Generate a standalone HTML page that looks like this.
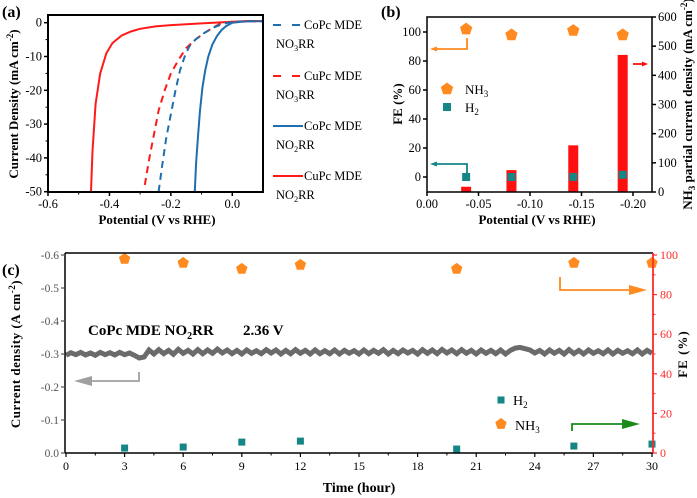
<!DOCTYPE html>
<html><head><meta charset="utf-8">
<style>
html,body{margin:0;padding:0;background:#fff;}
svg{display:block;font-family:"Liberation Serif",serif;}
</style></head>
<body>
<svg id="fig" width="697" height="498" viewBox="0 0 697 498" xmlns="http://www.w3.org/2000/svg"></svg>
<script>
// ---------- Panel (a) data ----------
const aCuNO2x = [-0.46,-0.455,-0.445,-0.43,-0.41,-0.39,-0.36,-0.33,-0.3,-0.25,-0.2,-0.1,0,0.05,0.1];
const aCuNO2y = [-50,-38,-24,-15,-9,-6,-3.8,-2.6,-1.8,-1.1,-0.7,-0.2,0.3,0.5,0.5];
const aCoNO2x = [-0.122,-0.118,-0.112,-0.105,-0.097,-0.088,-0.078,-0.065,-0.05,-0.035,-0.02,0,0.03,0.06,0.1];
const aCoNO2y = [-50,-42,-34,-26,-19,-14,-10,-6.5,-4,-2.2,-1,0,0.3,0.4,0.4];
const aCuNO3x = [-0.285,-0.27,-0.255,-0.24,-0.22,-0.2,-0.175,-0.15,-0.12,-0.09,-0.06,-0.035,0,0.05,0.1];
const aCuNO3y = [-48,-40,-33,-26,-20,-15,-11,-7.5,-5,-3,-1.3,-0.1,0.3,0.4,0.4];
const aCoNO3x = [-0.24,-0.228,-0.215,-0.2,-0.185,-0.17,-0.155,-0.14,-0.12,-0.09,-0.06,-0.03,0,0.05,0.1];
const aCoNO3y = [-50,-42,-34,-27,-20,-14,-10,-7,-5,-3,-1.4,-0.3,0.2,0.4,0.4];
const aXTicks = [-0.6,-0.4,-0.2,0.0];
const aXTickLabels = ["-0.6","-0.4","-0.2","0.0"];
const aYTicks = [0,-10,-20,-30,-40,-50];
const aYTickLabels = ["0","-10","-20","-30","-40","-50"];
// ---------- Panel (b) data ----------
const bPot = [-0.038,-0.082,-0.142,-0.19];
const bNH3FE = [102,98,101,98];
const bH2FE = [0,0,0,1.5];
const bNH3J = [18,75,160,470];
const bXTicks = [0,-0.05,-0.10,-0.15,-0.20];
const bXTickLabels = ["0.00","-0.05","-0.10","-0.15","-0.20"];
const bYTicks = [0,20,40,60,80,100];
const bYRTicks = [0,100,200,300,400,500,600];
// ---------- Panel (c) data ----------
const cHours = [3,6,9,12,20,26,30];
const cNH3FE = [98,96,93,95,93,96,96];
const cH2FE = [2.5,3,5.5,6,2,3.5,4.5];
const cCurrent = [-0.296,-0.304,-0.298,-0.305,-0.297,-0.303,-0.296,-0.305,-0.298,-0.304,-0.297,-0.305,-0.298,-0.303,-0.296,
 -0.288,-0.291,
 -0.312,-0.300,-0.313,-0.301,-0.311,-0.299,-0.314,-0.302,-0.311,-0.300,-0.313,-0.301,-0.312,-0.302,-0.315,-0.303,-0.312,-0.301,
 -0.311,-0.300,-0.312,-0.302,-0.310,-0.301,-0.313,-0.303,-0.312,-0.300,-0.311,-0.301,-0.313,-0.302,-0.311,-0.300,-0.312,-0.301,
 -0.310,-0.301,-0.312,-0.300,-0.311,-0.302,-0.310,-0.300,-0.312,-0.301,-0.311,-0.302,-0.313,-0.300,-0.311,-0.301,-0.312,-0.303,
 -0.311,-0.300,-0.313,-0.302,-0.312,-0.301,-0.314,-0.303,-0.312,-0.301,-0.313,-0.302,-0.311,-0.300,-0.312,-0.302,-0.311,-0.301,
 -0.312,-0.300,-0.311,
 -0.318,-0.320,-0.316,-0.312,
 -0.303,-0.311,-0.300,-0.312,-0.302,-0.311,-0.300,-0.313,-0.301,-0.311,-0.300,-0.312,-0.302,-0.310,-0.301,-0.312,-0.300,-0.311,
 -0.302,-0.310,-0.301,-0.312,-0.300,-0.311,-0.302];
const cXTicks = [0,3,6,9,12,15,18,21,24,27,30];
const cYTicks = [0,-0.1,-0.2,-0.3,-0.4,-0.5,-0.6];
const cYTickLabels = ["0.0","-0.1","-0.2","-0.3","-0.4","-0.5","-0.6"];
const cYRTicks = [0,20,40,60,80,100];

const NS="http://www.w3.org/2000/svg";
const svg=document.getElementById('fig');
function mk(tag,attrs,parent){const e=document.createElementNS(NS,tag);for(const k in attrs)e.setAttribute(k,attrs[k]);(parent||svg).appendChild(e);return e;}
function lin(d0,d1,r0,r1){return v=>r0+(v-d0)*(r1-r0)/(d1-d0);}
function txt(x,y,s,attrs,name){const t=mk('text',Object.assign({x:x,y:y},attrs||{}));t.innerHTML=s;


return t;}
function pent(cx,cy,r,fill){let p=[];for(let i=0;i<5;i++){const a=-Math.PI/2+i*2*Math.PI/5;p.push((cx+r*Math.cos(a)).toFixed(1)+','+(cy+r*Math.sin(a)).toFixed(1));}
const e=mk('polygon',{points:p.join(' '),fill:fill});


return e;}
function sq(cx,cy,s,fill){const e=mk('rect',{x:cx-s/2,y:cy-s/2,width:s,height:s,fill:fill});


return e;}
function arrow(pts,color,hw,hl,name){const g=mk('g',{});


const n=pts.length;const [x1,y1]=pts[n-2];const [x2,y2]=pts[n-1];const dx=Math.sign(x2-x1);
const line=pts.slice(0,n-1).map(p=>p.join(',')).join(' ')+' '+(x2-dx*hl)+','+y2;
mk('polyline',{points:line,fill:'none',stroke:color,'stroke-width':1.8},g);
mk('polygon',{points:`${x2},${y2} ${x2-dx*hl},${y2-hw} ${x2-dx*hl},${y2+hw}`,fill:color},g);return g;}

// ================= Panel (a) =================
(function(){
const X=lin(-0.6,0.1,48,263), Y=lin(0,-50,22.7,191.7);
const L=48,R=263,T=15,B=192;
txt(2,17,'(a)',{'font-size':16,'font-weight':'bold'},'panel-a-label');
const curves=[[aCuNO2x,aCuNO2y,'#ff1a1a',null,'curve-cupc-no2rr'],[aCoNO2x,aCoNO2y,'#1f6fb0',null,'curve-copc-no2rr'],
[aCuNO3x,aCuNO3y,'#ff1a1a','7,5','curve-cupc-no3rr'],[aCoNO3x,aCoNO3y,'#1f6fb0','7,5','curve-copc-no3rr']];
const cp=mk('clipPath',{id:'clipA'});mk('rect',{x:L,y:T,width:R-L,height:B-T},cp);
curves.forEach(c=>{const pts=c[0].map((v,i)=>X(v).toFixed(1)+','+Y(c[1][i]).toFixed(1)).join(' ');
const e=mk('polyline',{points:pts,fill:'none',stroke:c[2],'stroke-width':2,'clip-path':'url(#clipA)'});if(c[3])e.setAttribute('stroke-dasharray',c[3]);

});
const box=mk('rect',{x:L,y:T,width:R-L,height:B-T,fill:'none',stroke:'#000','stroke-width':2});


aXTicks.forEach((v,i)=>{mk('line',{x1:X(v),x2:X(v),y1:B,y2:B+4,stroke:'#000','stroke-width':1.5});txt(X(v),B+16,aXTickLabels[i],{'font-size':12.5,'text-anchor':'middle'},'x-tick-label');});
[-0.5,-0.3,-0.1].forEach(v=>mk('line',{x1:X(v),x2:X(v),y1:B,y2:B+2.5,stroke:'#000'}));
aYTicks.forEach((v,i)=>{mk('line',{x1:L-4,x2:L,y1:Y(v),y2:Y(v),stroke:'#000','stroke-width':1.5});txt(L-6,Y(v)+4,aYTickLabels[i],{'font-size':12.5,'text-anchor':'end'},'y-tick-label');});
[-5,-15,-25,-35,-45].forEach(v=>mk('line',{x1:L-2.5,x2:L,y1:Y(v),y2:Y(v),stroke:'#000'}));
txt(157,224,'Potential (V vs RHE)',{'font-size':13,'font-weight':'bold','text-anchor':'middle'},'x-axis-title');
txt(0,0,'Current Density (mA cm<tspan dy="-5" font-size="9">-2</tspan><tspan dy="5">)</tspan>',{'font-size':13,'font-weight':'bold','text-anchor':'middle',transform:'translate(18,104) rotate(-90)'},'y-axis-title');
const leg=[['#1f6fb0','6,5','CoPc MDE','NO<tspan dy="3" font-size="8">3</tspan><tspan dy="-3">RR</tspan>',25],
['#ff1a1a','6,5','CuPc MDE','NO<tspan dy="3" font-size="8">3</tspan><tspan dy="-3">RR</tspan>',76],
['#1f6fb0',null,'CoPc MDE','NO<tspan dy="3" font-size="8">2</tspan><tspan dy="-3">RR</tspan>',126],
['#ff1a1a',null,'CuPc MDE','NO<tspan dy="3" font-size="8">2</tspan><tspan dy="-3">RR</tspan>',176]];
leg.forEach((l,i)=>{const g=mk('g',{});


const ln=mk('line',{x1:273,x2:303,y1:l[4],y2:l[4],stroke:l[0],'stroke-width':2},g);if(l[1])ln.setAttribute('stroke-dasharray','8,11');
const t1=mk('text',{x:304,y:l[4]+4,'font-size':12.5},g);t1.innerHTML=l[2];
const t2=mk('text',{x:276,y:l[4]+23,'font-size':12.5},g);t2.innerHTML=l[3];});
})();

// ================= Panel (b) =================
(function(){
const L=427,R=652,T=17,B=192;
const X=lin(0,-0.2,427,633), Y=lin(0,100,177,32), YR=lin(0,600,192,17);
txt(381,17,'(b)',{'font-size':16,'font-weight':'bold'},'panel-b-label');
bPot.forEach((p,i)=>{const b=mk('rect',{x:X(p)-5,y:YR(bNH3J[i]),width:10,height:B-YR(bNH3J[i]),fill:'#ff1010'});

});
bPot.forEach((p,i)=>{pent(X(p),Y(bNH3FE[i]),6.5,'#ff8a1f');sq(X(p),Y(bH2FE[i]),8,'#168585');});
const box=mk('rect',{x:L,y:T,width:R-L,height:B-T,fill:'none',stroke:'#000','stroke-width':1.5});


bXTicks.forEach((v,i)=>{mk('line',{x1:X(v),x2:X(v),y1:B,y2:B+4,stroke:'#000','stroke-width':1.5});txt(X(v),B+16,bXTickLabels[i],{'font-size':12.5,'text-anchor':'middle'},'x-tick-label');});
bYTicks.forEach(v=>{mk('line',{x1:L-4,x2:L,y1:Y(v),y2:Y(v),stroke:'#000','stroke-width':1.5});txt(L-6,Y(v)+4,String(v),{'font-size':12.5,'text-anchor':'end'},'y-tick-label');});
bYRTicks.forEach(v=>{mk('line',{x1:R,x2:R+4,y1:YR(v),y2:YR(v),stroke:'#000','stroke-width':1.5});txt(R+6,YR(v)+4,String(v),{'font-size':12.5},'right-tick-label');});
txt(537,224,'Potential (V vs RHE)',{'font-size':13,'font-weight':'bold','text-anchor':'middle'},'x-axis-title');
txt(0,0,'FE (%)',{'font-size':13,'font-weight':'bold','text-anchor':'middle',transform:'translate(402,104) rotate(-90)'},'y-axis-title');
txt(0,0,'NH<tspan dy="3" font-size="9">3</tspan><tspan dy="-3"> partial current density (mA cm</tspan><tspan dy="-5" font-size="9">-2</tspan><tspan dy="5">)</tspan>',{'font-size':13,'font-weight':'bold','text-anchor':'middle',transform:'translate(692,104) rotate(-90)'},'right-axis-title');
pent(447,89,6.5,'#ff8a1f');txt(465,94,'NH<tspan dy="3" font-size="9">3</tspan>',{'font-size':13},'legend-nh3');
sq(447,107,8,'#168585');txt(465,112,'H<tspan dy="3" font-size="9">2</tspan>',{'font-size':13},'legend-h2');
arrow([[467,38],[467,49],[430,49]],'#ff8a1f',2.5,7,'arrow-fe-nh3');
arrow([[467,175],[467,164],[430,164]],'#168585',2.5,7,'arrow-fe-h2');
arrow([[633,64],[648,64]],'#ff1010',2.5,6,'arrow-current');
})();

// ================= Panel (c) =================
(function(){
const L=65,R=653,T=253,B=453;
const X=lin(0,30,66,652), Y=lin(0,-0.6,453,255), YR=lin(0,100,453,255);
txt(2,275,'(c)',{'font-size':16,'font-weight':'bold'},'panel-c-label');
const pts=cCurrent.map((v,i)=>X(i*0.25).toFixed(1)+','+Y(v).toFixed(1)).join(' ');
const ln=mk('polyline',{points:pts,fill:'none',stroke:'#6b6b6b','stroke-width':5,'stroke-linejoin':'miter'});


cHours.forEach((h,i)=>{pent(X(h),YR(cNH3FE[i]),6,'#ff8a1f');sq(X(h),YR(cH2FE[i]),7,'#168585');});
mk('line',{x1:L,x2:R,y1:T,y2:T,stroke:'#000','stroke-width':1.5});
mk('line',{x1:L,x2:R,y1:B,y2:B,stroke:'#000','stroke-width':1.5});
mk('line',{x1:L,x2:L,y1:T,y2:B,stroke:'#000','stroke-width':1.5});
const ra=mk('line',{x1:R,x2:R,y1:T,y2:B,stroke:'#ff2a2a','stroke-width':1.8});


cXTicks.forEach(v=>{mk('line',{x1:X(v),x2:X(v),y1:B,y2:B+4,stroke:'#000','stroke-width':1.2});txt(X(v),B+17,String(v),{'font-size':12,'text-anchor':'middle'},'x-tick-label');});
for(let h=1.5;h<30;h+=3)mk('line',{x1:X(h),x2:X(h),y1:B,y2:B+2.5,stroke:'#000'});
cYTicks.forEach((v,i)=>{mk('line',{x1:L-4,x2:L,y1:Y(v),y2:Y(v),stroke:'#555','stroke-width':1.2});txt(L-6,Y(v)+4,cYTickLabels[i],{'font-size':11.5,'text-anchor':'end',fill:'#555'},'y-tick-label');});
cYRTicks.forEach(v=>{mk('line',{x1:R,x2:R+4,y1:YR(v),y2:YR(v),stroke:'#ff2a2a','stroke-width':1.2});txt(R+7,YR(v)+4,String(v),{'font-size':12,fill:'#ff2a2a'},'right-tick-label');});
for(let v=10;v<100;v+=20)mk('line',{x1:R,x2:R+2.5,y1:YR(v),y2:YR(v),stroke:'#ff2a2a'});
txt(359,492,'Time (hour)',{'font-size':14,'font-weight':'bold','text-anchor':'middle'},'x-axis-title');
txt(0,0,'Current density (A cm<tspan dy="-5" font-size="9">-2</tspan><tspan dy="5">)</tspan>',{'font-size':13,'font-weight':'bold','text-anchor':'middle','letter-spacing':'0.5',transform:'translate(20,354) rotate(-90)'},'y-axis-title');
txt(0,0,'FE (%)',{'font-size':13,'font-weight':'bold','text-anchor':'middle','letter-spacing':'1',transform:'translate(687,354) rotate(-90)'},'right-axis-title');
txt(88,335,'CoPc MDE NO<tspan dy="4" font-size="10">2</tspan><tspan dy="-4">RR</tspan>',{'font-size':15,'font-weight':'bold'},'condition-label');
txt(243,335,'2.36 V',{'font-size':15,'font-weight':'bold'},'voltage-label');
sq(501,400,7,'#168585');txt(513,405,'H<tspan dy="3" font-size="9">2</tspan>',{'font-size':14},'legend-h2');
pent(501,424,6,'#ff8a1f');txt(515,430,'NH<tspan dy="3" font-size="9">3</tspan>',{'font-size':14},'legend-nh3');
arrow([[139,372],[139,381],[74,381]],'#a0a0a0',5,18,'arrow-current-axis');
arrow([[560,277],[560,290],[647,290]],'#ff8a1f',5,18,'arrow-fe-nh3');
arrow([[572,431],[572,424],[640,424]],'#1a8a1a',5,18,'arrow-fe-h2');
})();
</script>
</body></html>
